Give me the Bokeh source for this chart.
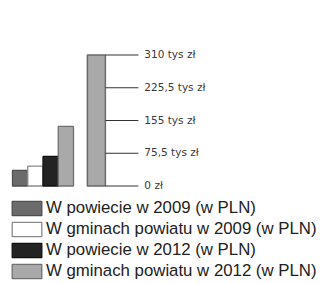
from bokeh.plotting import figure
from bokeh.models import ColumnDataSource, Range1d, Legend, LegendItem
from bokeh.core.properties import value
from bokeh.embed import file_html
from bokeh.resources import INLINE

# ---- data ----
categories = ["W powiecie w 2009 (w PLN)", "W gminach powiatu w 2009 (w PLN)",
              "W powiecie w 2012 (w PLN)", "W gminach powiatu w 2012 (w PLN)"]
values = [37, 47, 70, 141]          # tys zł
scale_value = 310                   # tys zł (scale bar)
tick_labels = ["0 zł", "75,5 tys zł", "155 tys zł", "225,5 tys zł", "310 tys zł"]

# ---- style / layout ----
fills = ["#6b6b6b", "#ffffff", "#232323", "#a9a9a9"]
lines = ["#4f4f4f", "#8a8a8a", "#111111", "#707070"]
W, H = 318, 282
left_px, unit_px = 12, 15.25          # left edge of first bar, bar width in px
top_px, base_px = 54.5, 185.5         # pixel rows of scale max and zero
tick_len_px, label_gap_px = 33, 6
scale_bar_w = 1.18

n = len(values)
xs = list(range(n))
x_scale = n + 1
k = (base_px - top_px) / scale_value   # px per unit
x0 = -0.5 - left_px / unit_px
# scale labels sit at equal steps along the scale bar
m = len(tick_labels) - 1
tick_pos = [scale_value * i / m for i in range(m + 1)]

p = figure(width=W, height=H, output_backend="svg", toolbar_location=None,
           x_range=Range1d(x0, x0 + W / unit_px),
           y_range=Range1d(-(H - base_px) / k, scale_value + top_px / k),
           min_border=0)
p.axis.visible = False
p.grid.visible = False
p.outline_line_color = None
p.title.visible = False

src = ColumnDataSource(dict(x=xs, top=values, fill=fills, line=lines))
r = p.vbar(x="x", top="top", width=1.0, source=src,
           fill_color="fill", line_color="line", line_width=1.3)

p.vbar(x=[x_scale], top=[scale_value], width=scale_bar_w,
       fill_color="#a9a9a9", line_color="#6a6a6a", line_width=1.5)

# scale ticks and labels
tx0 = x_scale + scale_bar_w / 2
tx1 = tx0 + tick_len_px / unit_px
cnt = len(tick_pos)
tsrc = ColumnDataSource(dict(y=tick_pos, lab=tick_labels,
                             x0=[tx0] * cnt, x1=[tx1] * cnt,
                             xt=[tx1 + label_gap_px / unit_px] * cnt))
p.segment(x0="x0", y0="y", x1="x1", y1="y", source=tsrc, line_color="#333333", line_width=1)
p.text(x="xt", y="y", text="lab", source=tsrc, text_font=value("DejaVu Sans"),
       text_font_size="10.5px", text_color="#3a3a3a", text_baseline="middle",
       y_offset=-1)

items = [LegendItem(label=categories[i], renderers=[r], index=i) for i in range(n)]
legend = Legend(items=items, location=(8, 1), orientation="vertical",
                glyph_width=37, glyph_height=18, label_height=18, spacing=1,
                label_standoff=1, padding=0, margin=0,
                label_text_font="Liberation Sans", label_text_font_size="16.8px",
                label_text_color="#222222", border_line_color=None,
                background_fill_alpha=0)
p.add_layout(legend)

open("out.html", "w").write(file_html(p, INLINE))
